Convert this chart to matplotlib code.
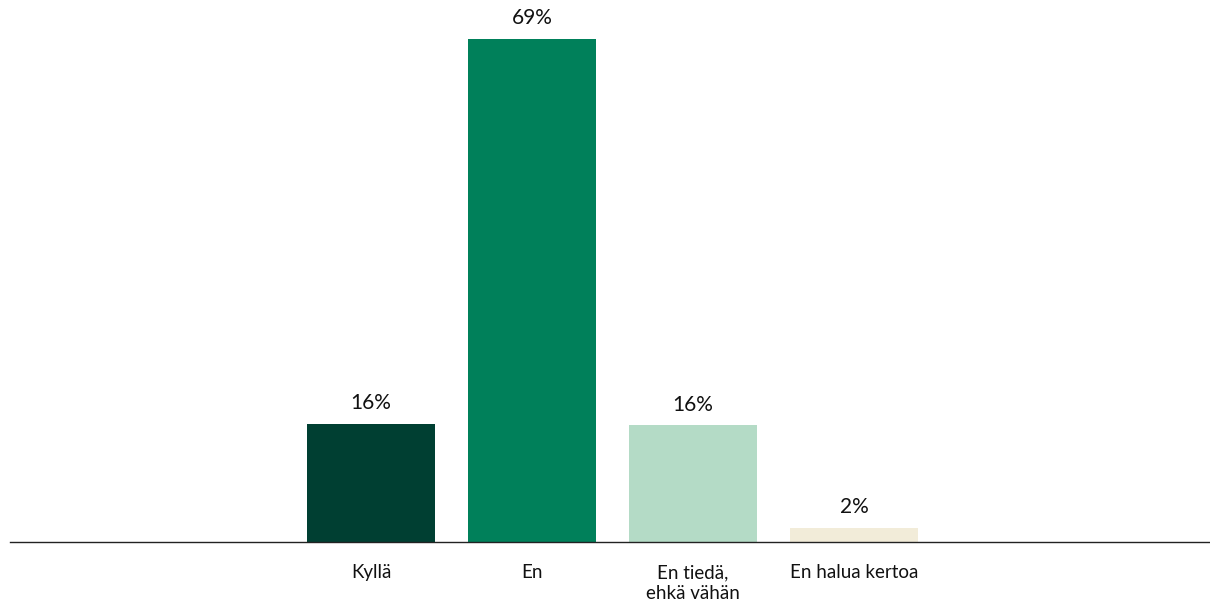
import matplotlib.pyplot as plt

plt.rcParams['font.family'] = ['Lato', 'DejaVu Sans']

categories = ["Kyllä", "En", "En tiedä,\nehkä vähän", "En halua kertoa"]
values = [16.2, 69.0, 16.0, 1.9]
colors = ["#003f32", "#00805a", "#b4dbc6", "#f2ecd9"]

fig = plt.figure(figsize=(12.1, 6.06), dpi=100)
ax = fig.add_axes([10 / 1210, 64 / 606, 1200 / 1210, 542 / 606])

x = range(len(categories))
bars = ax.bar(x, values, width=0.8, color=colors)

for b, v in zip(bars, values):
    ax.annotate(f"{v:.0f}%", (b.get_x() + b.get_width() / 2, v),
                xytext=(0, 15), textcoords="offset points",
                ha="center", va="center", fontsize=15, color="#111111")

ax.set_xlim(-2.242, 5.211)
ax.set_ylim(0, 74.35)
ax.set_xticks(list(x))
ax.set_xticklabels(categories, fontsize=13.5, color="#111111", linespacing=1.3)
ax.tick_params(axis="x", length=0, pad=16)
ax.set_yticks([])
for s in ["top", "right", "left"]:
    ax.spines[s].set_visible(False)
ax.spines["bottom"].set_color("#222222")
ax.spines["bottom"].set_linewidth(1.0)

fig.savefig("out.png", dpi=100)
